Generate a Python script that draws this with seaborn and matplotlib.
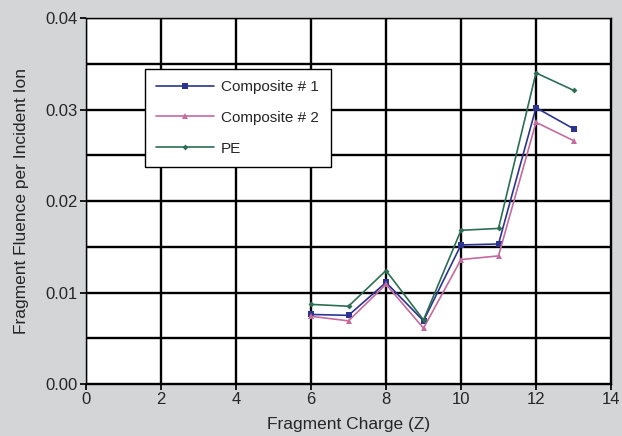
import matplotlib
matplotlib.use("Agg")
import matplotlib.pyplot as plt
import seaborn as sns
import pandas as pd

charge = [6, 7, 8, 9, 10, 11, 12, 13]
composite1 = [0.0076, 0.0075, 0.0111, 0.0069, 0.0152, 0.0153, 0.0302, 0.0279]
composite2 = [0.0074, 0.0069, 0.0109, 0.0061, 0.0136, 0.0140, 0.0286, 0.0266]
pe = [0.0087, 0.0085, 0.0124, 0.0070, 0.0168, 0.0170, 0.0340, 0.0321]
series_names = ["Composite # 1", "Composite # 2", "PE"]

df = pd.DataFrame({
    "Z": charge * 3,
    "Fluence": composite1 + composite2 + pe,
    "Series": [series_names[0]] * 8 + [series_names[1]] * 8 + [series_names[2]] * 8,
})

sns.set_theme(style="white")
plt.rcParams["font.family"] = ["Liberation Sans", "DejaVu Sans"]

fig = plt.figure(figsize=(6.22, 4.36), dpi=100, facecolor="#d3d5d7")
ax = fig.add_axes([86 / 622, 1 - 384 / 436, 525 / 622, 366 / 436])
ax.set_facecolor("white")

palette = {"Composite # 1": "#2b3590", "Composite # 2": "#c46aa0", "PE": "#2c6e54"}
markers = {"Composite # 1": "s", "Composite # 2": "^", "PE": "D"}
sizes = {"Composite # 1": 5, "Composite # 2": 4, "PE": 3}

for name in series_names:
    sub = df[df["Series"] == name]
    sns.lineplot(data=sub, x="Z", y="Fluence", ax=ax, color=palette[name],
                 marker=markers[name], markersize=sizes[name], linewidth=1.2,
                 markeredgewidth=0, label=name)

ax.set_xlim(0, 14)
ax.set_ylim(0, 0.04)
ax.set_xticks([0, 2, 4, 6, 8, 10, 12, 14])
ax.set_yticks([0.00, 0.01, 0.02, 0.03, 0.04])
ax.set_yticklabels(["0.00", "0.01", "0.02", "0.03", "0.04"])
ax.set_yticks([0.005, 0.015, 0.025, 0.035], minor=True)
ax.grid(True, which="major", color="black", linewidth=1.7)
ax.grid(True, which="minor", axis="y", color="black", linewidth=1.7)
ax.tick_params(axis="both", which="major", labelsize=12, length=4, color="black",
               direction="out", left=True, bottom=True, pad=2)
ax.tick_params(axis="y", which="minor", length=0)
for s in ax.spines.values():
    s.set_color("black")
    s.set_linewidth(1.0)

ax.set_xlabel("Fragment Charge (Z)", fontsize=12.5, labelpad=7)
ax.set_ylabel("Fragment Fluence per Incident Ion", fontsize=12.5, labelpad=12)

leg = ax.legend(loc="upper left", bbox_to_anchor=(0.112, 0.862), fontsize=11,
                frameon=True, fancybox=False, edgecolor="black", framealpha=1,
                borderpad=0.75, labelspacing=1.1, handlelength=3.8, handletextpad=0.45,
                borderaxespad=0)
leg.get_frame().set_linewidth(1.0)

fig.savefig("out.png", dpi=100, facecolor=fig.get_facecolor())
